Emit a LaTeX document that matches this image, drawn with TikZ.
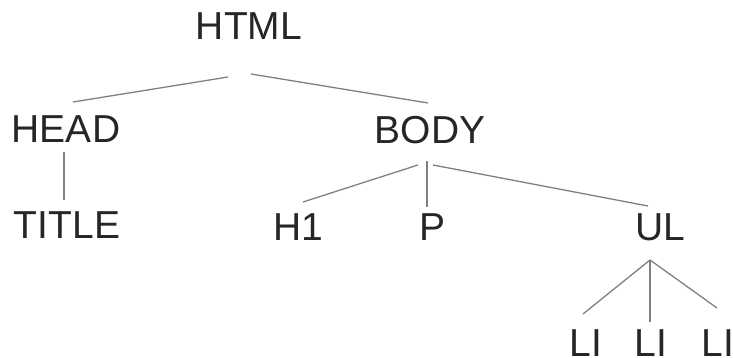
\documentclass[tikz,border=0pt]{standalone}
\usepackage{fontspec}
\setmainfont{Liberation Sans}
\begin{document}
\begin{tikzpicture}[x=1pt,y=-1pt,
  tag/.style={inner sep=0pt, outer sep=0pt, anchor=base, text=black!85,
    font=\fontsize{39}{47}\selectfont},
  edge/.style={draw=black!50, line width=1.3pt}]
\useasboundingbox (0,0) rectangle (733,358);

% element nodes, placed by their baselines
\node[tag] (html)  at (249,40)  {HTML};
\node[tag] (head)  at (66,143)  {HEAD};
\node[tag] (body)  at (430,144) {BODY};
\node[tag] (title) at (67,238)  {TITLE};
\node[tag] (h1)    at (298,240) {H1};
\node[tag] (p)     at (432,240) {P};
\node[tag] (ul)    at (660,240) {UL};
\node[tag] (li1)   at (586,356) {LI};
\node[tag] (li2)   at (651,356) {LI};
\node[tag] (li3)   at (718,356) {LI};

% tree edges
\draw[edge] ([shift={(-21,37)}]html.base) -- ([shift={(7,-41)}]head.base);
\draw[edge] ([shift={(2,34)}]html.base)   -- ([shift={(-2,-41)}]body.base);
\draw[edge] ([shift={(-2,9)}]head.base)   -- ([shift={(-3,-38)}]title.base);
\draw[edge] ([shift={(-12,21)}]body.base) -- ([shift={(5,-38)}]h1.base);
\draw[edge] ([shift={(-3,17)}]body.base)  -- ([shift={(-5,-33)}]p.base);
\draw[edge] ([shift={(3,21)}]body.base)   -- ([shift={(-12,-34)}]ul.base);
\draw[edge] ([shift={(-10,20)}]ul.base)   -- ([shift={(-3,-42)}]li1.base);
\draw[edge] ([shift={(-10,20)}]ul.base)   -- ([shift={(-1,-34)}]li2.base);
\draw[edge] ([shift={(-10,20)}]ul.base)   -- ([shift={(-1,-48)}]li3.base);
\end{tikzpicture}
\end{document}
